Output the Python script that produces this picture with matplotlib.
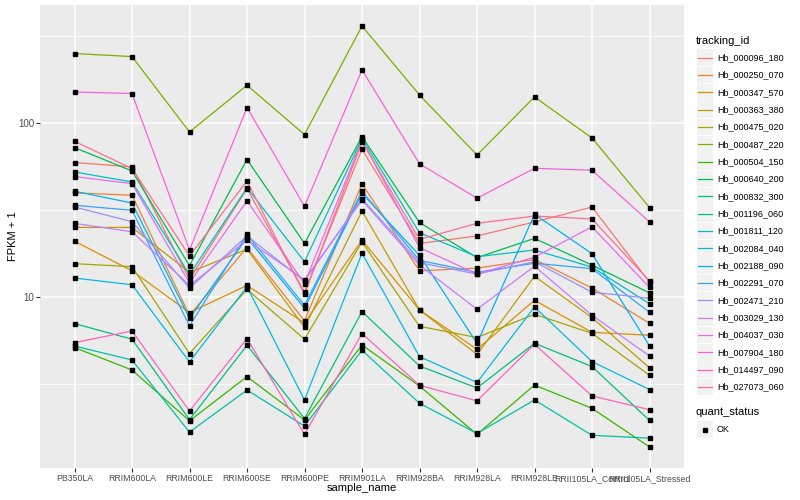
import numpy as np
import matplotlib
matplotlib.use("Agg")
from matplotlib import pyplot as plt
from matplotlib.patches import Rectangle
from matplotlib.lines import Line2D
from matplotlib.ticker import NullFormatter

plt.rcParams["font.family"] = ["Liberation Sans", "DejaVu Sans"]

# samples on the x axis
samples = ["PB350LA", "RRIM600LA", "RRIM600LE", "RRIM600SE", "RRIM600PE", "RRIM901LA",
           "RRIM928BA", "RRIM928LA", "RRIM928LE", "RRII105LA_Control", "RRII105LA_Stressed"]

# FPKM + 1 per gene, one value per sample
hb_000096_180 = [59.5, 56.1, 12.7, 42.0, 10.7, 70.9, 20.4, 22.5, 27.1, 33.0, 12.2]
hb_000250_070 = [39.8, 38.6, 7.88, 19.3, 7.33, 44.9, 14.2, 14.7, 16.5, 11.3, 7.09]
hb_000347_570 = [21.0, 14.2, 8.17, 11.7, 7.12, 21.3, 8.46, 5.02, 9.61, 6.29, 6.05]
hb_000363_380 = [25.2, 25.2, 13.9, 18.9, 6.72, 31.3, 8.46, 4.69, 13.2, 7.64, 3.93]
hb_000475_020 = [15.6, 15.0, 4.75, 11.1, 5.74, 20.8, 6.81, 5.87, 7.99, 6.21, 3.56]
hb_000487_220 = [251.6, 241.7, 89.1, 165.4, 86.1, 362.0, 145.4, 65.7, 141.6, 82.3, 32.8]
hb_000504_150 = [5.14, 3.82, 1.95, 3.50, 1.97, 5.32, 3.09, 1.63, 3.13, 2.30, 1.38]
hb_000640_200 = [72.5, 53.2, 15.2, 61.9, 20.4, 83.9, 26.9, 16.9, 21.8, 15.3, 10.6]
hb_000832_300 = [7.06, 5.74, 1.98, 5.30, 2.01, 8.28, 4.03, 3.01, 5.44, 4.00, 1.96]
hb_001196_060 = [5.25, 4.36, 1.68, 2.93, 1.82, 4.96, 2.46, 1.65, 2.57, 1.61, 1.55]
hb_001811_120 = [52.5, 46.0, 13.5, 42.6, 16.0, 81.7, 23.5, 17.1, 18.7, 14.9, 9.18]
hb_002084_040 = [12.9, 11.8, 4.25, 11.5, 2.57, 17.9, 4.56, 3.24, 8.80, 4.27, 2.95]
hb_002188_090 = [40.7, 34.8, 7.57, 22.0, 8.65, 39.6, 17.4, 5.44, 30.0, 17.8, 5.25]
hb_002291_070 = [33.8, 31.6, 6.84, 23.0, 9.00, 40.7, 16.3, 13.9, 15.7, 14.6, 8.20]
hb_002471_210 = [33.0, 27.2, 11.3, 22.5, 12.4, 36.8, 15.8, 13.6, 16.0, 10.7, 9.87]
hb_003029_130 = [26.6, 23.8, 11.7, 21.3, 12.6, 36.1, 15.3, 8.53, 15.1, 7.88, 4.60]
hb_004037_030 = [49.4, 45.0, 12.1, 35.8, 12.0, 79.9, 19.3, 13.6, 17.0, 25.4, 11.4]
hb_007904_180 = [151.3, 148.2, 18.7, 123.1, 33.3, 202.5, 58.5, 37.1, 55.1, 53.7, 27.1]
hb_014497_090 = [5.49, 6.40, 2.22, 5.79, 1.63, 6.19, 3.12, 2.54, 5.37, 2.71, 2.26]
hb_027073_060 = [78.8, 54.9, 17.3, 46.6, 10.4, 78.3, 21.5, 26.6, 29.3, 28.2, 12.4]

tracking_ids = ["Hb_000096_180", "Hb_000250_070", "Hb_000347_570", "Hb_000363_380",
                "Hb_000475_020", "Hb_000487_220", "Hb_000504_150", "Hb_000640_200",
                "Hb_000832_300", "Hb_001196_060", "Hb_001811_120", "Hb_002084_040",
                "Hb_002188_090", "Hb_002291_070", "Hb_002471_210", "Hb_003029_130",
                "Hb_004037_030", "Hb_007904_180", "Hb_014497_090", "Hb_027073_060"]
series = [hb_000096_180, hb_000250_070, hb_000347_570, hb_000363_380, hb_000475_020,
          hb_000487_220, hb_000504_150, hb_000640_200, hb_000832_300, hb_001196_060,
          hb_001811_120, hb_002084_040, hb_002188_090, hb_002291_070, hb_002471_210,
          hb_003029_130, hb_004037_030, hb_007904_180, hb_014497_090, hb_027073_060]

# ggplot default hue palette for 20 levels
colors = ["#F8766D", "#EA8331", "#D89000", "#C09B00", "#A3A500", "#7CAE00", "#39B600",
          "#00BB4E", "#00BF7D", "#00C1A3", "#00BFC4", "#00BAE0", "#00B0F6", "#35A2FF",
          "#9590FF", "#C77CFF", "#E76BF3", "#FA62DB", "#FF62BC", "#FF6C91"]

W, H = 800, 500
fig = plt.figure(figsize=(W / 100, H / 100), dpi=100)
ax = fig.add_axes([40 / W, 32 / H, 644 / W, 463 / H])
ax.set_facecolor("#EBEBEB")
for s in ax.spines.values():
    s.set_visible(False)

x = np.arange(len(samples))
for vals, c in zip(series, colors):
    ax.plot(x, vals, color=c, lw=0.9, zorder=2)
for vals in series:
    ax.plot(x, vals, "s", color="black", ms=2.2, zorder=3)

ax.set_yscale("log")
allv = np.log10(np.concatenate([np.array(v) for v in series]))
lo, hi = allv.min(), allv.max()
pad = 0.05 * (hi - lo)
ax.set_ylim(10 ** (lo - pad), 10 ** (hi + pad))
ax.set_xlim(-0.6, len(samples) - 0.4)

ax.set_yticks([10, 100])
ax.set_yticklabels(["10", "100"])
ax.set_yticks([10 ** 0.5, 10 ** 1.5, 10 ** 2.5], minor=True)
ax.yaxis.set_minor_formatter(NullFormatter())
ax.set_xticks(x)
ax.set_xticklabels(samples)
ax.grid(which="major", color="white", lw=1.1)
ax.grid(which="minor", axis="y", color="white", lw=0.55)
ax.set_axisbelow(True)
ax.tick_params(which="minor", length=0)
ax.tick_params(which="major", length=2.75, width=0.8, color="#333333",
               labelcolor="#4D4D4D", pad=1.5)
ax.tick_params(axis="x", labelsize=6.3)
ax.tick_params(axis="y", labelsize=7)

fig.text(362 / W, 1 - 488 / H, "sample_name", fontsize=8, ha="center", va="center")
fig.text(13 / W, 1 - 236.5 / H, "FPKM + 1", fontsize=8, ha="center", va="center", rotation=90)

# legend: tracking_id
fig.text(696 / W, 1 - 40.7 / H, "tracking_id", fontsize=8, va="center")
for i, (tid, c) in enumerate(zip(tracking_ids, colors)):
    yc = 57.6 + i * 17.33
    fig.add_artist(Rectangle((696.5 / W, 1 - (yc + 8.3) / H), 16.6 / W, 16.6 / H,
                             transform=fig.transFigure, facecolor="#F2F2F2", edgecolor="none"))
    fig.add_artist(Line2D([698 / W, 711.5 / W], [1 - yc / H] * 2, color=c, lw=0.9,
                          transform=fig.transFigure))
    fig.text(717 / W, 1 - yc / H, tid, fontsize=6.5, va="center")

# legend: quant_status
fig.text(696 / W, 1 - 411.7 / H, "quant_status", fontsize=8, va="center")
fig.add_artist(Rectangle((696.5 / W, 1 - (429.5 + 8.3) / H), 16.6 / W, 16.6 / H,
                         transform=fig.transFigure, facecolor="#F2F2F2", edgecolor="none"))
fig.add_artist(Line2D([704.8 / W], [1 - 429.5 / H], marker="s", color="black", ms=2.2,
                      transform=fig.transFigure))
fig.text(717 / W, 1 - 429.5 / H, "OK", fontsize=6.5, va="center")

fig.savefig("out.png", dpi=100)
